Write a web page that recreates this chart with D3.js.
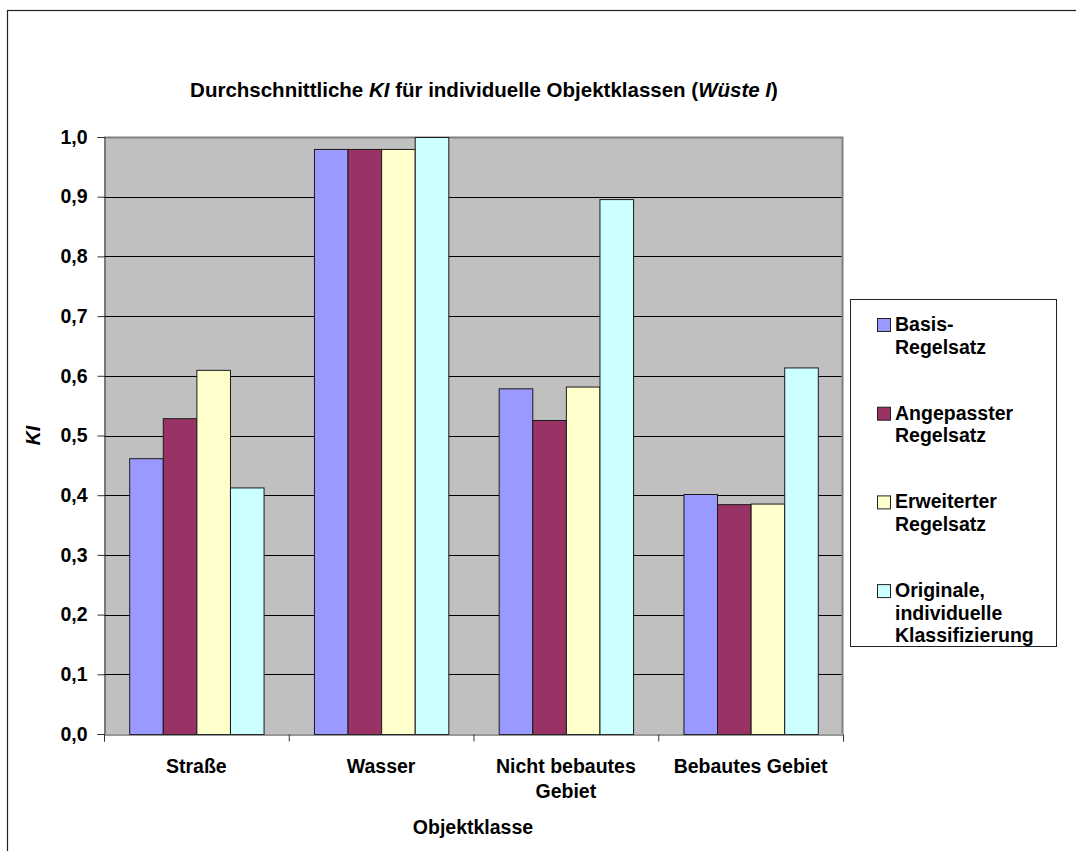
<!DOCTYPE html>
<html>
<head>
<meta charset="utf-8">
<script src="https://cdn.jsdelivr.net/npm/d3@7"></script>
<style>
  html, body { margin: 0; padding: 0; background: #fff; }
  svg { display: block; }
  text { font-family: "Liberation Sans", Arial, sans-serif; font-weight: bold; fill: #000; }
</style>
</head>
<body>
<svg id="chart" width="1076" height="851"></svg>
<script>
// Object classes on the x axis (line breaks marked with \n)
const categories = ["Straße", "Wasser", "Nicht bebautes\nGebiet", "Bebautes Gebiet"];

// Rule sets (legend entries, line breaks marked with \n)
const seriesNames = [
  "Basis-\nRegelsatz",
  "Angepasster\nRegelsatz",
  "Erweiterter\nRegelsatz",
  "Originale,\nindividuelle\nKlassifizierung"
];

// Average KI per object class, one array per rule set
const basis       = [0.462, 0.980, 0.579, 0.402];
const angepasst   = [0.529, 0.980, 0.526, 0.385];
const erweitert   = [0.610, 0.980, 0.582, 0.386];
const original    = [0.413, 1.000, 0.896, 0.614];
const seriesValues = [basis, angepasst, erweitert, original];

const seriesColors = ["#9999FF", "#993366", "#FFFFCC", "#CCFFFF"];

// Y axis ticks
const yTicks = [0, 0.1, 0.2, 0.3, 0.4, 0.5, 0.6, 0.7, 0.8, 0.9, 1.0];

const FS = 19.5;

const svg = d3.select("#chart");

// Outer chart frame (extends past the visible area on the right and bottom)
svg.append("rect")
  .attr("x", 7.5).attr("y", 10.5)
  .attr("width", 1100).attr("height", 900)
  .attr("fill", "#fff").attr("stroke", "#222").attr("stroke-width", 1.2);

const plot = { left: 104, top: 137, right: 843, bottom: 734 };

const x0 = d3.scaleBand()
  .domain(d3.range(categories.length))
  .range([plot.left, plot.right]);

const x1 = d3.scaleBand()
  .domain(d3.range(seriesNames.length))
  .range([0, x0.bandwidth()])
  .paddingInner(0)
  .paddingOuter(0.75);

const y = d3.scaleLinear().domain([0, 1]).range([plot.bottom, plot.top]);

// Plot background
svg.append("rect")
  .attr("x", plot.left).attr("y", plot.top)
  .attr("width", plot.right - plot.left).attr("height", plot.bottom - plot.top)
  .attr("fill", "#C0C0C0");

// Horizontal gridlines
svg.append("g")
  .selectAll("line")
  .data(yTicks.filter(t => t > 0 && t < 1))
  .join("line")
  .attr("x1", plot.left).attr("x2", plot.right)
  .attr("y1", d => Math.round(y(d)) + 0.5).attr("y2", d => Math.round(y(d)) + 0.5)
  .attr("stroke", "#000").attr("stroke-width", 1);

// Plot border (top and right)
svg.append("path")
  .attr("d", `M${plot.left},${plot.top + 0.5}H${plot.right - 0.5}V${plot.bottom}`)
  .attr("fill", "none").attr("stroke", "#808080").attr("stroke-width", 2);

// Bars
const groups = svg.append("g")
  .selectAll("g")
  .data(categories.map((c, i) => i))
  .join("g")
  .attr("transform", i => `translate(${x0(i)},0)`);

groups.selectAll("rect")
  .data(ci => seriesValues.map((vals, si) => ({ si, v: vals[ci] })))
  .join("rect")
  .attr("x", d => x1(d.si) + 0.5)
  .attr("y", d => y(d.v) + 0.5)
  .attr("width", x1.bandwidth())
  .attr("height", d => y(0) - y(d.v))
  .attr("fill", d => seriesColors[d.si])
  .attr("stroke", "#1a1a1a")
  .attr("stroke-width", 1);

// Y axis
const yAxis = d3.axisLeft(y)
  .tickValues(yTicks)
  .tickSize(7)
  .tickPadding(10)
  .tickFormat(d => d3.format(".1f")(d).replace(".", ","));

const yg = svg.append("g")
  .attr("transform", `translate(${plot.left + 0.5},0)`)
  .call(yAxis);
yg.select(".domain").attr("stroke", "#333");
yg.selectAll(".tick line").attr("stroke", "#333");
yg.selectAll(".tick text")
  .attr("font-size", FS)
  .attr("font-family", "'Liberation Sans', Arial, sans-serif")
  .attr("font-weight", "bold")
  .attr("fill", "#000");

// X axis with ticks at category boundaries
const xb = d3.scaleLinear().domain([0, categories.length]).range([plot.left, plot.right]);
const xg = svg.append("g")
  .attr("transform", `translate(0,${plot.bottom + 0.5})`)
  .call(d3.axisBottom(xb).ticks(categories.length).tickSize(7).tickFormat(""));
xg.select(".domain").attr("stroke", "#333");
xg.selectAll(".tick line").attr("stroke", "#333");

// Category labels
const catLabels = svg.append("g")
  .selectAll("text")
  .data(categories)
  .join("text")
  .attr("x", (d, i) => x0(i) + x0.bandwidth() / 2)
  .attr("y", 773)
  .attr("text-anchor", "middle")
  .attr("font-size", FS);
catLabels.each(function(d) {
  const t = d3.select(this);
  d.split("\n").forEach((line, k) => {
    t.append("tspan")
      .attr("x", t.attr("x"))
      .attr("dy", k === 0 ? 0 : 25)
      .text(line);
  });
});

// Title
const title = svg.append("text")
  .attr("x", 484).attr("y", 97)
  .attr("text-anchor", "middle")
  .attr("font-size", 20.5);
title.append("tspan").text("Durchschnittliche ");
title.append("tspan").attr("font-style", "italic").text("KI");
title.append("tspan").text(" für individuelle Objektklassen (");
title.append("tspan").attr("font-style", "italic").text("Wüste I");
title.append("tspan").text(")");

// Axis titles
svg.append("text")
  .attr("transform", `translate(40,${(plot.top + plot.bottom) / 2}) rotate(-90)`)
  .attr("text-anchor", "middle")
  .attr("font-size", FS)
  .attr("font-style", "italic")
  .text("KI");

svg.append("text")
  .attr("x", 473).attr("y", 834)
  .attr("text-anchor", "middle")
  .attr("font-size", FS)
  .text("Objektklasse");

// Legend
const legend = svg.append("g");
legend.append("rect")
  .attr("x", 850.5).attr("y", 299.5)
  .attr("width", 206).attr("height", 347)
  .attr("fill", "#fff").attr("stroke", "#222").attr("stroke-width", 1);

const legendItems = legend.selectAll("g")
  .data(seriesNames)
  .join("g")
  .attr("transform", (d, i) => `translate(877,${318 + i * 88.7})`);

legendItems.append("rect")
  .attr("x", 0.5).attr("y", 0.5)
  .attr("width", 13).attr("height", 13)
  .attr("fill", (d, i) => seriesColors[i])
  .attr("stroke", "#222").attr("stroke-width", 1);

legendItems.append("text")
  .attr("x", 18).attr("y", 13)
  .attr("font-size", FS)
  .each(function(d) {
    const t = d3.select(this);
    d.split("\n").forEach((line, k) => {
      t.append("tspan").attr("x", 18).attr("dy", k === 0 ? 0 : 22.5).text(line);
    });
  });
</script>
</body>
</html>
